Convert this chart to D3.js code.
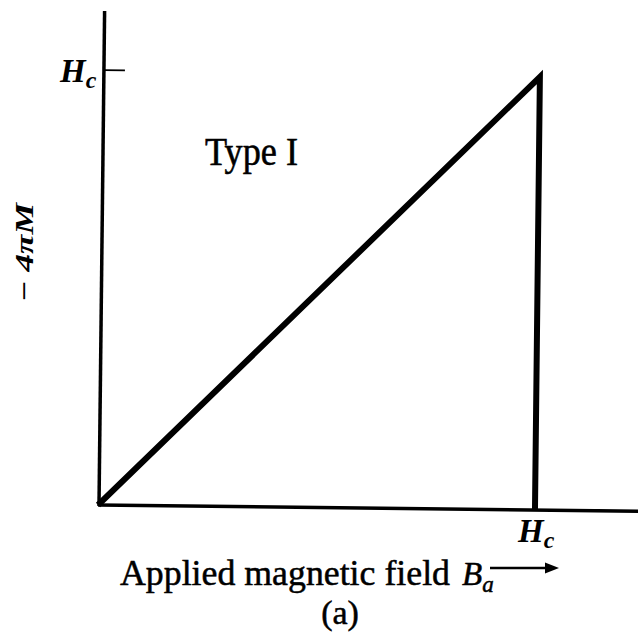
<!DOCTYPE html>
<html><head><meta charset="utf-8">
<script src="https://cdn.jsdelivr.net/npm/d3@7"></script>
<style>html,body{margin:0;padding:0;background:#fff;}svg{display:block;}</style>
</head><body>
<svg id="c" width="638" height="634"></svg>
<script>
// Data (field in units of Hc, magnetization -4πM in units of Hc)
const points = ["origin", "peak", "drop"];
const fieldValues = [0, 1, 1];
const magValues = [0, 1, 0];
const xTickValues = [1];
const yTickValues = [1];
const xTickLabel = "H";
const yTickLabel = "H";
const tickSub = "c";
const seriesLabel = "Type I";
const xAxisTitle = "Applied magnetic field";
const yAxisTitle = "\u2212 4\u03C0M";
const caption = "(a)";

const svg = d3.select("#c");
const font = "'Liberation Serif','Times New Roman',serif";
const ox = 98, oy = 505;
const x = d3.scaleLinear().domain([0, 1]).range([ox, 535]);
const y = d3.scaleLinear().domain([0, 1]).range([oy, 72]);

// slight rotation like the scanned original
const g = svg.append("g").attr("transform", `rotate(0.65, ${ox}, ${oy})`);

// axes
g.append("line").attr("x1", ox).attr("y1", oy).attr("x2", 645).attr("y2", oy)
  .attr("stroke", "#000").attr("stroke-width", 3.5);
g.append("line").attr("x1", ox + 1).attr("y1", oy + 1).attr("x2", ox + 1).attr("y2", 11)
  .attr("stroke", "#000").attr("stroke-width", 3.5);

// y tick
g.selectAll(".yt").data(yTickValues).enter().append("line")
  .attr("x1", ox + 1).attr("x2", ox + 22)
  .attr("y1", d => y(d) - 2).attr("y2", d => y(d) - 2)
  .attr("stroke", "#000").attr("stroke-width", 1.8);

// curve
const line = d3.line().x((d, i) => x(fieldValues[i])).y((d, i) => y(magValues[i]));
g.append("path").datum(points).attr("d", line)
  .attr("fill", "none").attr("stroke", "#000").attr("stroke-width", 6)
  .attr("stroke-linejoin", "miter").attr("stroke-miterlimit", 10);

// y tick label
svg.selectAll(".ytl").data(yTickValues).enter().append("text")
  .attr("x", 60).attr("y", d => y(d) + 10)
  .attr("font-family", font).attr("font-style", "italic").attr("font-weight", "bold")
  .attr("font-size", 33)
  .call(t => { t.append("tspan").text(yTickLabel);
               t.append("tspan").attr("font-size", 24).attr("dy", 6).text(tickSub); });

// x tick label
svg.selectAll(".xtl").data(xTickValues).enter().append("text")
  .attr("x", d => x(d) - 17).attr("y", 542)
  .attr("font-family", font).attr("font-style", "italic").attr("font-weight", "bold")
  .attr("font-size", 33)
  .call(t => { t.append("tspan").text(xTickLabel);
               t.append("tspan").attr("font-size", 24).attr("dy", 6).text(tickSub); });

// series label
svg.append("text").attr("x", 205).attr("y", 165)
  .attr("font-family", font).attr("font-size", 41)
  .attr("stroke", "#000").attr("stroke-width", 0.6)
  .attr("textLength", 93).attr("lengthAdjust", "spacingAndGlyphs")
  .text(seriesLabel);

// x axis title
svg.append("text").attr("x", 120).attr("y", 585)
  .attr("font-family", font).attr("font-size", 35)
  .attr("stroke", "#000").attr("stroke-width", 0.5)
  .attr("textLength", 330).attr("lengthAdjust", "spacingAndGlyphs")
  .text(xAxisTitle);
svg.append("text").attr("x", 462).attr("y", 585)
  .attr("font-family", font).attr("font-style", "italic").attr("font-size", 33)
  .attr("stroke", "#000").attr("stroke-width", 0.5)
  .call(t => { t.append("tspan").text("B");
               t.append("tspan").attr("font-size", 23).attr("dy", 7).text("a"); });
// arrow
svg.append("line").attr("x1", 490).attr("y1", 568).attr("x2", 548).attr("y2", 568)
  .attr("stroke", "#000").attr("stroke-width", 2.5);
svg.append("path").attr("d", "M545,562.5 L559,568 L545,573.5 Z").attr("fill", "#000");

// caption
svg.append("text").attr("x", 340).attr("y", 624).attr("text-anchor", "middle")
  .attr("font-family", font).attr("font-size", 34)
  .attr("stroke", "#000").attr("stroke-width", 0.5)
  .text(caption);

// y axis title
svg.append("text").attr("transform", "translate(33,302) rotate(-90)")
  .attr("font-family", font).attr("font-style", "italic").attr("font-weight", "bold")
  .attr("font-size", 26).attr("textLength", 99).attr("lengthAdjust", "spacingAndGlyphs")
  .text(yAxisTitle);
</script>
</body></html>
